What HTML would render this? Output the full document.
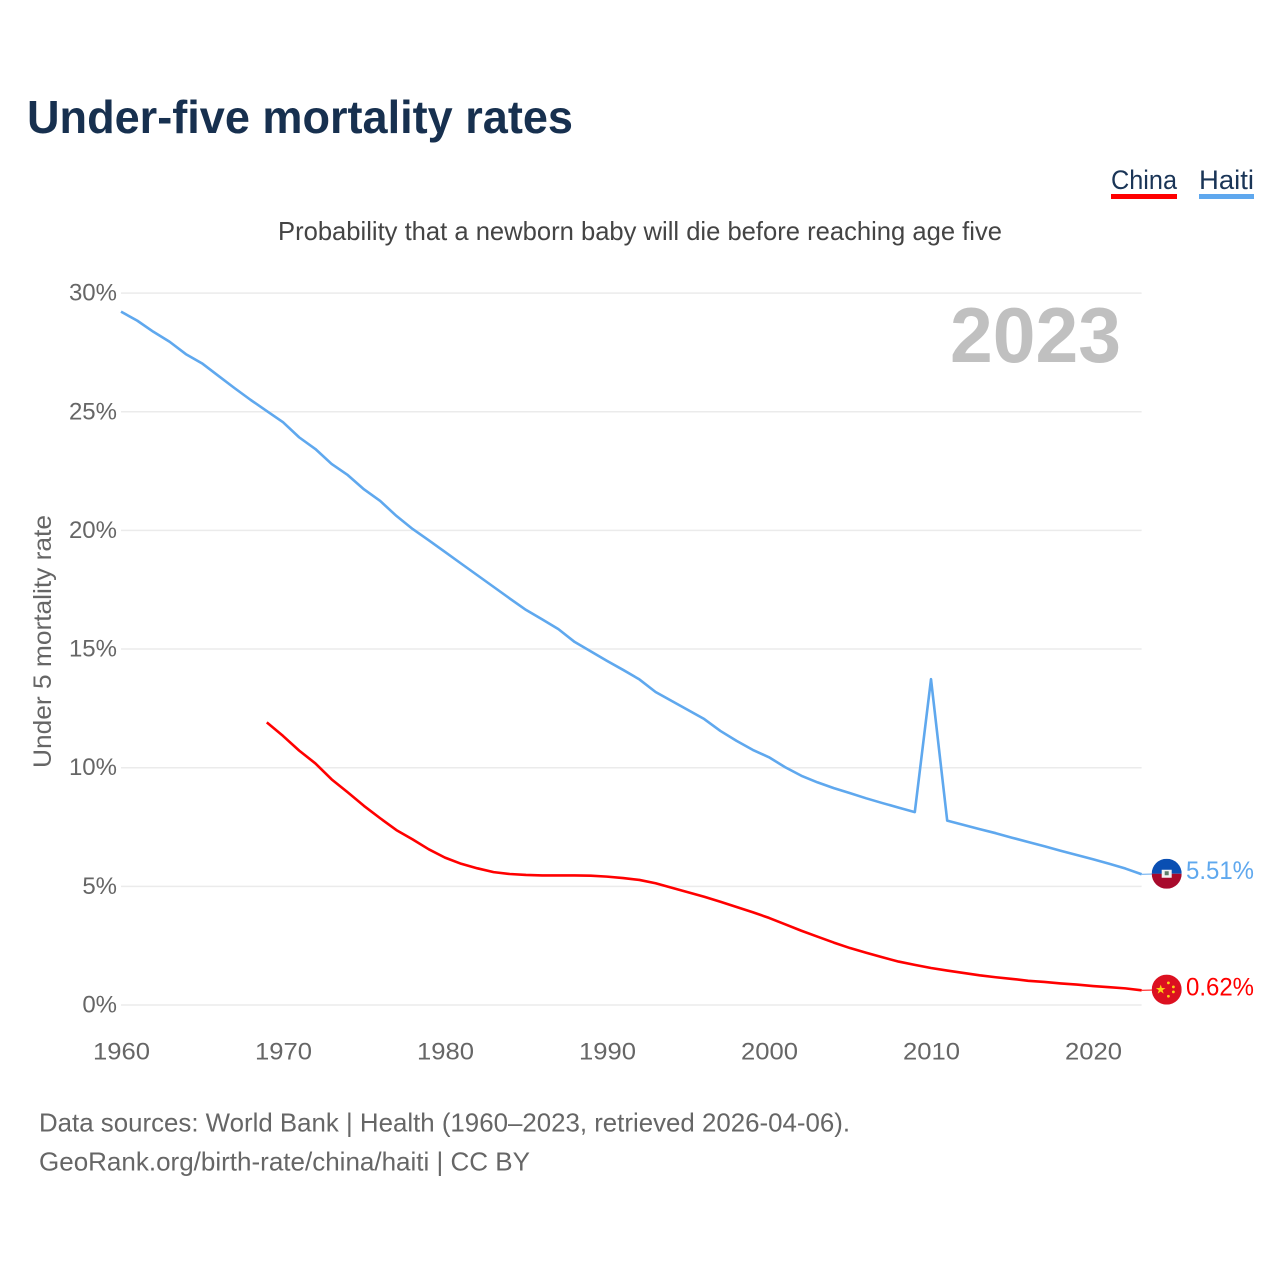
<!DOCTYPE html>
<html lang="en">
<head>
<meta charset="utf-8">
<title>Under-five mortality rates</title>
<style>
html,body{margin:0;padding:0;background:#fff;}
svg{display:block;font-family:"Liberation Sans",sans-serif;}
</style>
</head>
<body>
<svg id="chart" xmlns="http://www.w3.org/2000/svg" width="1280" height="1280" viewBox="0 0 1280 1280">
  <defs>
    <clipPath id="flag-clip"><circle cx="0" cy="0" r="15"></circle></clipPath>
  </defs>
  <rect x="0" y="0" width="1280" height="1280" fill="#ffffff"></rect>
  <text x="27" y="133" font-size="46" font-weight="700" fill="#17304f" textLength="546" lengthAdjust="spacingAndGlyphs">Under-five mortality rates</text>
  <text x="278" y="240" font-size="26" fill="#444444" textLength="724" lengthAdjust="spacingAndGlyphs">Probability that a newborn baby will die before reaching age five</text>
  <g>
    <g>
      <text x="1111" y="189" font-size="27" fill="#1a3557" textLength="66" lengthAdjust="spacingAndGlyphs">China</text>
      <rect x="1111" y="194" width="66" height="5" fill="#ff0000"></rect>
    </g>
    <g>
      <text x="1199" y="189" font-size="27" fill="#1a3557" textLength="55" lengthAdjust="spacingAndGlyphs">Haiti</text>
      <rect x="1199" y="194" width="55" height="5" fill="#5fa8ee"></rect>
    </g>
  </g>
  <text transform="translate(51,768) rotate(-90)" font-size="25" fill="#666666" textLength="253" lengthAdjust="spacingAndGlyphs">Under 5 mortality rate</text>
  <g id="grid"></g>
  <g id="y-ticks"></g>
  <g id="x-ticks"></g>
  <text x="950" y="362" font-size="78" font-weight="700" fill="#c0c0c0" textLength="171" lengthAdjust="spacingAndGlyphs">2023</text>
  <g id="series"></g>
  <g id="end-labels"></g>
  <text x="39" y="1131.5" font-size="26" fill="#666666" textLength="811" lengthAdjust="spacingAndGlyphs">Data sources: World Bank | Health (1960–2023, retrieved 2026-04-06).</text>
  <text x="39" y="1170.5" font-size="26" fill="#666666" textLength="491" lengthAdjust="spacingAndGlyphs">GeoRank.org/birth-rate/china/haiti | CC BY</text>
</svg>
<script>
const yTicks = [0, 5, 10, 15, 20, 25, 30];
const xTicks = [1960, 1970, 1980, 1990, 2000, 2010, 2020];
const haitiStartYear = 1960;
const haitiValues = [29.22,28.84,28.37,27.95,27.43,27.04,26.52,26.00,25.50,25.03,24.56,23.92,23.43,22.80,22.33,21.73,21.24,20.61,20.06,19.58,19.09,18.60,18.11,17.62,17.13,16.65,16.25,15.84,15.30,14.90,14.50,14.12,13.72,13.19,12.81,12.43,12.05,11.55,11.13,10.75,10.44,10.02,9.66,9.38,9.14,8.93,8.71,8.51,8.32,8.13,13.73,7.77,7.59,7.41,7.24,7.05,6.87,6.69,6.50,6.32,6.14,5.95,5.75,5.51];
const chinaStartYear = 1969;
const chinaValues = [11.91,11.34,10.72,10.18,9.51,8.96,8.39,7.87,7.37,6.98,6.56,6.21,5.95,5.76,5.60,5.52,5.48,5.46,5.46,5.46,5.45,5.41,5.35,5.27,5.13,4.94,4.75,4.56,4.35,4.13,3.91,3.67,3.40,3.13,2.88,2.63,2.40,2.20,2.01,1.83,1.69,1.56,1.45,1.35,1.25,1.17,1.10,1.02,0.97,0.91,0.86,0.80,0.75,0.70,0.62];

const NS = 'http://www.w3.org/2000/svg';
const xAxis = function (year) { return 121 + (year - 1960) * 16.2; };
const yAxis = function (value) { return 1005 - value * 23.73; };
const make = function (parent, tag, attrs, text) {
  const el = document.createElementNS(NS, tag);
  Object.keys(attrs).forEach(function (k) { el.setAttribute(k, attrs[k]); });
  if (text !== undefined) el.textContent = text;
  parent.appendChild(el);
  return el;
};
const linePath = function (start, values) {
  return values.map(function (v, i) {
    return (i ? 'L' : 'M') + xAxis(start + i).toFixed(2) + ' ' + yAxis(v).toFixed(2);
  }).join(' ');
};

const grid = document.getElementById('grid');
const yTickGroup = document.getElementById('y-ticks');
yTicks.forEach(function (t) {
  const line = make(grid, 'line', {x1: xAxis(1960), x2: xAxis(2023), y1: yAxis(t), y2: yAxis(t), stroke: '#ebebeb', 'stroke-width': 1.5});
  
  
  const label = make(yTickGroup, 'text', {x: 117, y: yAxis(t) + 7.5, 'text-anchor': 'end', 'font-size': 24, fill: '#666666'}, t + '%');
  
  
});

const xTickGroup = document.getElementById('x-ticks');
xTicks.forEach(function (t) {
  const label = make(xTickGroup, 'text', {x: xAxis(t) - 28, y: 1059.5, 'font-size': 24, fill: '#666666', textLength: 57, lengthAdjust: 'spacingAndGlyphs'}, String(t));
  
  
});

const seriesGroup = document.getElementById('series');
const haitiLine = make(seriesGroup, 'path', {d: linePath(haitiStartYear, haitiValues), fill: 'none', stroke: '#5fa8ee', 'stroke-width': 2.6, 'stroke-linejoin': 'round'});


const chinaLine = make(seriesGroup, 'path', {d: linePath(chinaStartYear, chinaValues), fill: 'none', stroke: '#ff0000', 'stroke-width': 2.6, 'stroke-linejoin': 'round'});



const endGroup = document.getElementById('end-labels');
const haitiLast = haitiValues[haitiValues.length - 1];
const chinaLast = chinaValues[chinaValues.length - 1];
const endX = xAxis(2023);
const flagX = 1166.7;

const haitiConnector = make(endGroup, 'line', {x1: endX, x2: flagX, y1: yAxis(haitiLast), y2: yAxis(haitiLast) - 0.5, stroke: '#5fa8ee', 'stroke-width': 1});


const chinaConnector = make(endGroup, 'line', {x1: endX, x2: flagX, y1: yAxis(chinaLast), y2: yAxis(chinaLast) - 0.5, stroke: '#ff0000', 'stroke-width': 1});



const haitiFlag = make(endGroup, 'g', {transform: 'translate(' + flagX + ',' + (yAxis(haitiLast) - 0.5) + ')', 'clip-path': 'url(#flag-clip)'});


make(haitiFlag, 'rect', {x: -15, y: -15, width: 30, height: 15, fill: '#0a4fb3'});
make(haitiFlag, 'rect', {x: -15, y: 0, width: 30, height: 15, fill: '#a80a2c'});
make(haitiFlag, 'rect', {x: -5, y: -4, width: 10, height: 8, fill: '#f4f4f4'});
make(haitiFlag, 'rect', {x: -2, y: -2.5, width: 4, height: 4, fill: '#5f7f6a'});

const chinaFlag = make(endGroup, 'g', {transform: 'translate(' + flagX + ',' + (yAxis(chinaLast) - 0.7) + ')', 'clip-path': 'url(#flag-clip)'});


make(chinaFlag, 'rect', {x: -15, y: -15, width: 30, height: 30, fill: '#dc1020'});
make(chinaFlag, 'polygon', {points: '-6,-5 -4.8,-1.6 -1.2,-1.5 -4.1,0.6 -3,4 -6,1.9 -9,4 -7.9,0.6 -10.8,-1.5 -7.2,-1.6', fill: '#fcd116'});
[[1.7,-6.7],[6.7,-2.7],[6.7,2.3],[1.7,6.7]].forEach(function (p) {
  make(chinaFlag, 'circle', {cx: p[0], cy: p[1], r: 1.4, fill: '#fcd116'});
});

const haitiValueLabel = make(endGroup, 'text', {x: 1186, y: yAxis(haitiLast) + 5, 'font-size': 25, fill: '#5fa8ee', textLength: 68, lengthAdjust: 'spacingAndGlyphs'}, haitiLast.toFixed(2) + '%');


const chinaValueLabel = make(endGroup, 'text', {x: 1186, y: yAxis(chinaLast) + 5, 'font-size': 25, fill: '#ff0000', textLength: 68, lengthAdjust: 'spacingAndGlyphs'}, chinaLast.toFixed(2) + '%');


</script>
</body>
</html>
